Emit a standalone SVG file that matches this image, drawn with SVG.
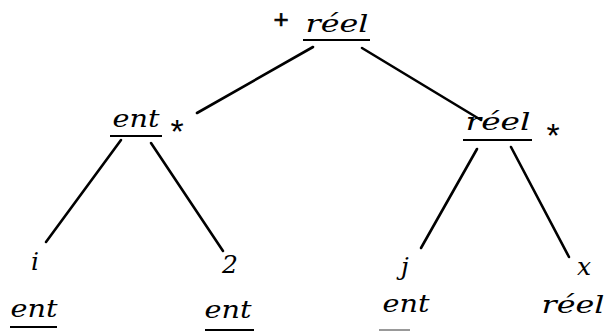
<svg xmlns="http://www.w3.org/2000/svg" width="607" height="333" viewBox="0 0 607 333">
<style>
.t{font-family:"DejaVu Serif","Liberation Serif",serif;font-style:italic;font-size:25px;fill:#000;text-anchor:middle}
.op{font-family:"Liberation Sans",Arial,sans-serif;font-size:26px;fill:#000;text-anchor:middle}
.st{font-family:"Liberation Sans",Arial,sans-serif;font-size:34px;fill:#000;text-anchor:middle}
.u{stroke:#000;stroke-width:2}
.e{stroke:#000;stroke-width:2.6;stroke-linecap:round;fill:none}
</style>
<rect width="607" height="333" fill="#fff"/>
<g id="connectors">
<line class="e" x1="313" y1="47" x2="197" y2="113"/>
<line class="e" x1="362" y1="48" x2="481" y2="120"/>
<line class="e" x1="121" y1="140" x2="46" y2="242"/>
<line class="e" x1="151" y1="143" x2="223" y2="251"/>
<line class="e" x1="477" y1="149" x2="421" y2="248"/>
<line class="e" x1="511" y1="147" x2="569" y2="257"/>
</g>
<g id="root">
<text class="op" x="281" y="28" stroke="#000" stroke-width="0.6">+</text>
<text class="t" x="337" y="32" textLength="63" lengthAdjust="spacingAndGlyphs">réel</text>
<line class="u" x1="303" y1="40" x2="370" y2="40"/>
</g>
<g id="mul-left">
<text class="t" x="136" y="127" textLength="47" lengthAdjust="spacingAndGlyphs">ent</text>
<line class="u" x1="110" y1="136" x2="162" y2="136"/>
<text class="st" x="177" y="143">*</text>
</g>
<g id="mul-right">
<text class="t" x="498" y="130" textLength="65" lengthAdjust="spacingAndGlyphs">réel</text>
<line class="u" x1="463" y1="140" x2="532" y2="140"/>
<text class="st" x="553" y="147">*</text>
</g>
<g id="leaf-i">
<text class="t" x="35" y="270">i</text>
<text class="t" x="34" y="317" textLength="47" lengthAdjust="spacingAndGlyphs">ent</text>
<line class="u" x1="10" y1="327" x2="57" y2="327"/>
</g>
<g id="leaf-2">
<text class="t" x="230" y="273">2</text>
<text class="t" x="228" y="318" textLength="47" lengthAdjust="spacingAndGlyphs">ent</text>
<line class="u" x1="205" y1="330" x2="254" y2="330"/>
</g>
<g id="leaf-j">
<text class="t" x="405" y="275">j</text>
<text class="t" x="406" y="312" textLength="47" lengthAdjust="spacingAndGlyphs">ent</text>
<line x1="379" y1="330" x2="410" y2="330" stroke="#999" stroke-width="2"/>
</g>
<g id="leaf-x">
<text class="t" x="584" y="275">x</text>
<text class="t" x="573" y="313" textLength="63" lengthAdjust="spacingAndGlyphs">réel</text>
</g>
</svg>
